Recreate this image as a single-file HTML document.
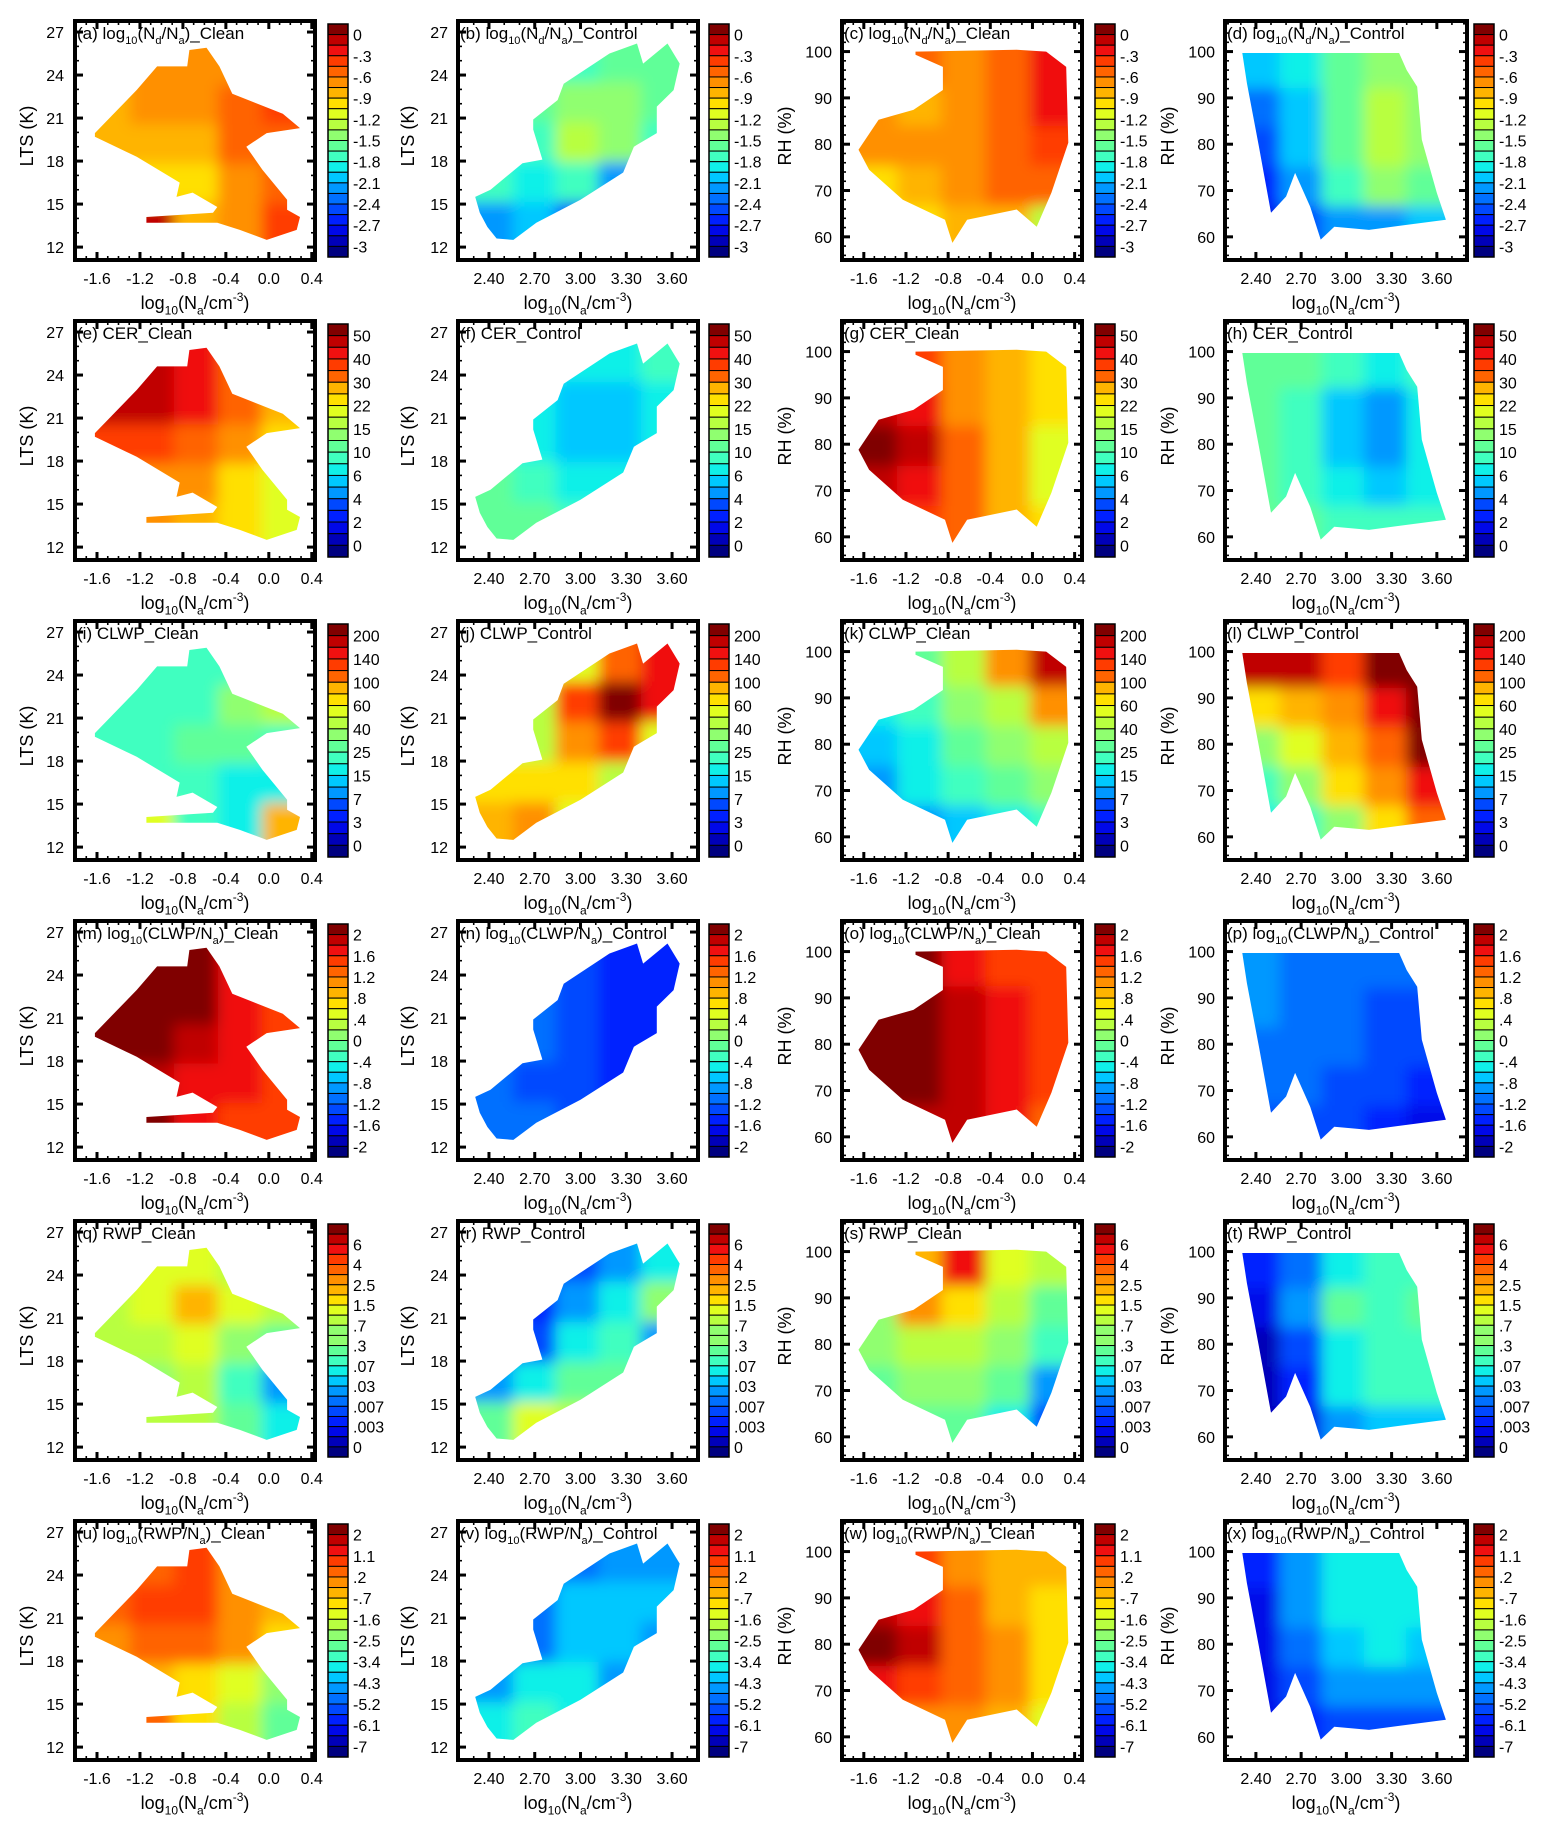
<!DOCTYPE html>
<html><head><meta charset="utf-8">
<style>
html,body{margin:0;padding:0;background:#fff;}
svg{display:block;font-family:"Liberation Sans","DejaVu Sans",sans-serif;}
</style></head>
<body>
<svg id="fig" width="1550" height="1831" viewBox="0 0 1550 1831" xmlns="http://www.w3.org/2000/svg">
<defs>
<filter id="blur" x="-20%" y="-20%" width="140%" height="140%"><feGaussianBlur stdDeviation="7"/></filter>
</defs>
</svg>
<script>
// ---------- data ----------
const rowQuantities=["log~{10}(N~{d}/N~{a})","CER","CLWP","log~{10}(CLWP/N~{a})","RWP","log~{10}(RWP/N~{a})"];
const colSuffix=["_Clean","_Control","_Clean","_Control"];
const cbLabels1=["0","-.3","-.6","-.9","-1.2","-1.5","-1.8","-2.1","-2.4","-2.7","-3"];
const cbLabels2=["50","40","30","22","15","10","6","4","2","0"];
const cbLabels3=["200","140","100","60","40","25","15","7","3","0"];
const cbLabels4=["2","1.6","1.2",".8",".4","0","-.4","-.8","-1.2","-1.6","-2"];
const cbLabels5=["6","4","2.5","1.5",".7",".3",".07",".03",".007",".003","0"];
const cbLabels6=["2","1.1",".2","-.7","-1.6","-2.5","-3.4","-4.3","-5.2","-6.1","-7"];
const cbBins=[22,20,20,22,23,22];
const cbLabelStart=[1,1,1,1,2,1];
const xTicksLog=[-1.6,-1.2,-0.8,-0.4,0.0,0.4];
const xTicksCtl=[2.4,2.7,3.0,3.3,3.6];
const yTicksLTS=[12,15,18,21,24,27];
const yTicksRH=[60,70,80,90,100];
const xDomains=[[-1.805,0.43],[2.197,3.77],[-1.807,0.47],[2.195,3.80]];
const yDomains=[[11.1,27.77],[11.1,27.77],[55,106.6],[55,106.6]];
// shape outlines (data coords)
const shapeA=[[-1.62,19.95],[-1.23,22.96],[-1.04,24.6],[-0.76,24.6],[-0.74,25.75],[-0.58,25.9],[-0.46,24.6],[-0.34,22.7],[0.13,21.3],[0.29,20.3],[-0.02,19.95],[-0.21,19],[-0.06,17.4],[0.17,15.3],[0.17,14.6],[0.29,14.1],[0.26,13.2],[-0.02,12.5],[-0.27,13.2],[-0.48,13.7],[-1.14,13.7],[-1.14,14.1],[-0.52,14.4],[-0.48,14.8],[-0.71,15.8],[-0.86,15.5],[-0.83,16.5],[-1.23,18.3],[-1.62,19.7]];
const shapeB=[[2.31,15.5],[2.41,16],[2.62,17.85],[2.75,18.1],[2.69,20.2],[2.69,20.9],[2.85,22.25],[2.89,23.4],[3.19,25.5],[3.37,26.2],[3.41,24.8],[3.57,26.2],[3.65,24.8],[3.61,22.95],[3.50,21.8],[3.50,19.95],[3.35,19],[3.28,17.2],[3.0,15.3],[2.71,13.7],[2.56,12.5],[2.45,12.6],[2.39,13.4],[2.34,14.4]];
const shapeC=[[-1.65,78.8],[-1.46,85.3],[-1.13,87.4],[-0.85,91.7],[-0.85,96.7],[-1.11,99.3],[-1.11,100],[-0.15,100.4],[0.13,100],[0.32,96.7],[0.34,80.3],[0.18,69.5],[0.04,62.2],[-0.15,65.9],[-0.62,63.7],[-0.76,58.7],[-0.83,63.7],[-1.23,68],[-1.55,74.5]];
const shapeD=[[2.31,99.7],[3.35,99.7],[3.40,96],[3.47,92.4],[3.50,81],[3.60,69.5],[3.66,63.7],[3.15,61.5],[2.92,62.2],[2.83,59.4],[2.76,66.5],[2.66,73.8],[2.60,68.7],[2.50,65.2],[2.42,79.5],[2.34,93.2]];
const gridBounds=[[-1.7,0.35,12.3,26],[2.28,3.68,12.3,26.3],[-1.7,0.4,58,101],[2.28,3.68,58,100.5]];
// colour level grids (0 = dark blue ... 21 = dark red), 5x5, rows top->bottom
const lv_a=[16,16,16,16,17, 15,16,16,17,18, 15,15,15,17,17, 15,14,14,16,17, 20,20,15,16,18];
const lv_b=[9,9,9,10,10, 8,10,11,11,10, 8,9,12,11,9, 9,8,9,6,5, 6,7,4,4,4];
const lv_c=[20,17,16,17,19, 16,15,16,17,19, 16,16,16,17,18, 14,15,16,17,17, 14,14,15,15,12];
const lv_d=[7,8,10,11,11, 5,7,10,12,11, 4,7,10,12,11, 3,6,9,11,10, 2,4,6,6,7];
const lv_e=[20,20,19,17,16, 20,20,19,17,15, 18,18,17,16,14, 17,16,16,14,13, 16,16,15,14,13];
const lv_f=[9,9,8,8,9, 9,8,7,7,8, 9,8,7,7,8, 10,9,8,8,8, 10,10,9,9,9];
const lv_g=[19,18,16,15,14, 20,19,16,15,14, 21,20,17,15,13, 20,19,17,15,13, 19,18,17,15,14];
const lv_h=[10,10,9,8,9, 10,9,7,6,8, 10,9,7,6,8, 10,9,8,7,8, 10,10,9,9,9];
const lv_i=[9,9,9,9,10, 9,9,9,11,12, 9,9,10,10,9, 9,9,9,8,8, 14,13,9,8,15];
const lv_j=[11,12,13,17,19, 11,12,18,21,19, 12,12,16,18,13, 14,14,14,12,12, 15,16,13,12,12];
const lv_k=[9,10,12,16,20, 8,9,11,12,16, 7,8,10,11,12, 6,8,9,10,11, 5,6,7,8,9];
const lv_l=[20,20,18,21,21, 14,15,16,19,21, 11,13,15,17,21, 9,11,14,16,19, 8,9,11,14,17];
const lv_m=[21,21,21,19,19, 21,21,21,19,18, 21,21,20,19,18, 20,20,19,19,18, 21,21,19,18,18];
const lv_n=[4,4,4,3,3, 5,5,4,3,3, 5,5,4,3,3, 5,4,4,3,3, 5,5,4,4,4];
const lv_o=[21,21,19,18,18, 21,21,20,19,18, 21,21,20,19,18, 21,21,20,19,18, 21,20,20,19,17];
const lv_p=[6,5,5,5,5, 6,5,5,4,4, 5,5,5,4,4, 5,5,4,4,3, 4,4,4,3,2];
const lv_q=[12,13,13,12,12, 12,13,15,13,12, 12,12,13,11,10, 11,11,12,9,6, 14,12,12,10,8];
const lv_r=[2,3,4,6,8, 2,3,6,8,11, 2,4,8,9,6, 6,8,10,10,4, 10,13,12,4,3];
const lv_s=[10,15,19,13,12, 11,16,14,12,10, 11,12,12,11,9, 10,11,11,10,6, 9,10,10,8,4];
const lv_t=[3,5,8,9,9, 2,6,10,9,10, 1,4,8,9,9, 1,3,8,9,9, 1,2,6,7,7];
const lv_u=[17,17,18,16,15, 17,18,18,16,15, 16,17,17,16,14, 16,15,14,13,11, 17,17,14,12,10];
const lv_v=[3,4,5,6,6, 3,5,7,7,7, 3,5,7,7,6, 6,8,8,6,5, 8,9,8,5,5];
const lv_w=[19,18,16,15,15, 20,19,17,15,14, 21,20,17,16,14, 19,18,17,16,14, 16,16,16,15,13];
const lv_x=[3,6,8,8,8, 2,6,8,8,8, 2,5,7,8,7, 2,4,6,6,6, 2,3,4,4,4];

// ---------- styling / layout ----------
const palette=["#000080","#0000b8","#0008e8","#0020ff","#0048ff","#0070ff","#0098ff","#00c8ff","#10f0e8","#40ffc0","#60ff98","#90ff70","#b8ff40","#e0ff20","#ffe000","#ffb400","#ff9000","#ff6400","#ff3c00","#f01010","#c00000","#800000"];
const panelX=[75,458,842,1225], panelW=[240,240,240,242], panelH=239;
const cbX=[328,709,1095,1474];
const yLabX=[27,408,785,1168], yTickX=[64,448,832,1215];
const svg=document.getElementById('fig');
const NS="http://www.w3.org/2000/svg";
function mk(tag,attrs,parent){const e=document.createElementNS(NS,tag);for(const k in attrs)e.setAttribute(k,attrs[k]);(parent||svg).appendChild(e);return e;}
function richText(el,str,fs){
  const re=/([~^])\{([^}]*)\}/g;let last=0,m;
  const add=(t,shift)=>{const ts=document.createElementNS(NS,'tspan');ts.textContent=t;
    if(shift){ts.setAttribute('font-size',Math.round(fs*0.65));ts.setAttribute('dy',shift);}
    el.appendChild(ts);};
  let pend=0;
  while((m=re.exec(str))){
    if(m.index>last){const ts=document.createElementNS(NS,'tspan');ts.textContent=str.slice(last,m.index);if(pend)ts.setAttribute('dy',pend);pend=0;el.appendChild(ts);}
    const sh=m[1]==='~'?fs*0.3:-fs*0.45;
    add(m[2],sh+pend);pend=-sh;last=re.lastIndex;
  }
  if(last<str.length){const ts=document.createElementNS(NS,'tspan');ts.textContent=str.slice(last);if(pend)ts.setAttribute('dy',pend);el.appendChild(ts);}
}
const levelsAll=[lv_a,lv_b,lv_c,lv_d,lv_e,lv_f,lv_g,lv_h,lv_i,lv_j,lv_k,lv_l,lv_m,lv_n,lv_o,lv_p,lv_q,lv_r,lv_s,lv_t,lv_u,lv_v,lv_w,lv_x];
const shapes=[shapeA,shapeB,shapeC,shapeD];
const cbLabelSets=[cbLabels1,cbLabels2,cbLabels3,cbLabels4,cbLabels5,cbLabels6];
const letters="abcdefghijklmnopqrstuvwx";

for(let r=0;r<6;r++){
 for(let c=0;c<4;c++){
  const idx=r*4+c, top=21+300*r, left=panelX[c], W=panelW[c], H=panelH;
  const xd=xDomains[c], yd=yDomains[c];
  const sx=v=>left+(v-xd[0])/(xd[1]-xd[0])*W;
  const sy=v=>top+H-(v-yd[0])/(yd[1]-yd[0])*H;
  const g=mk('g',{});
  
  
  const cp=mk('clipPath',{id:'clip'+idx},svg.querySelector('defs'));
  mk('polygon',{points:shapes[c].map(p=>sx(p[0]).toFixed(1)+','+sy(p[1]).toFixed(1)).join(' ')},cp);
  const hm=mk('g',{'clip-path':'url(#clip'+idx+')'},g);
  
  
  const inner=mk('g',{filter:'url(#blur)'},hm);
  const gb=gridBounds[c], lv=levelsAll[idx], n=5;
  const cw=(gb[1]-gb[0])/n, ch=(gb[3]-gb[2])/n;
  for(let j=-2;j<n+2;j++)for(let i=-2;i<n+2;i++){
    const ii=Math.max(0,Math.min(n-1,i)), jj=Math.max(0,Math.min(n-1,j));
    const L=lv[jj*n+ii];
    const x0=sx(gb[0]+i*cw), x1=sx(gb[0]+(i+1)*cw), y0=sy(gb[3]-j*ch), y1=sy(gb[3]-(j+1)*ch);
    const cell=mk('rect',{x:x0-0.5,y:y0-0.5,width:x1-x0+1,height:y1-y0+1,fill:palette[L]},inner);
    
    
  }
  const xt=(c%2===0)?xTicksLog:xTicksCtl, yt=(c<2)?yTicksLTS:yTicksRH;
  const minX=(c%2===0)?[-1.8,0.4]:[2.2,3.7];
  for(let v=minX[0];v<=minX[1]+1e-6;v+=0.1){
    const X=sx(v);
    mk('line',{x1:X,x2:X,y1:top+H,y2:top+H-4,stroke:'#000','stroke-width':1.6},g);
    mk('line',{x1:X,x2:X,y1:top,y2:top+4,stroke:'#000','stroke-width':1.6},g);
  }
  const minY=(c<2)?[11,27,1]:[56,106,2];
  for(let v=minY[0];v<=minY[1];v+=minY[2]){
    const Y=sy(v); if(Y<top||Y>top+H)continue;
    mk('line',{x1:left,x2:left+4,y1:Y,y2:Y,stroke:'#000','stroke-width':1.6},g);
    mk('line',{x1:left+W,x2:left+W-4,y1:Y,y2:Y,stroke:'#000','stroke-width':1.6},g);
  }
  xt.forEach(v=>{const X=sx(v);
    mk('line',{x1:X,x2:X,y1:top+H,y2:top+H-8,stroke:'#000','stroke-width':3},g);
    mk('line',{x1:X,x2:X,y1:top,y2:top+8,stroke:'#000','stroke-width':3},g);
    const t=mk('text',{x:X,y:top+H+24,'font-size':16,'text-anchor':'middle'},g);
    t.textContent=(c%2===0)?v.toFixed(1):v.toFixed(2);
    
    
  });
  yt.forEach(v=>{const Y=sy(v);
    mk('line',{x1:left,x2:left+8,y1:Y,y2:Y,stroke:'#000','stroke-width':3},g);
    mk('line',{x1:left+W,x2:left+W-8,y1:Y,y2:Y,stroke:'#000','stroke-width':3},g);
    const t=mk('text',{x:yTickX[c],y:Y+6,'font-size':16,'text-anchor':'end'},g);
    t.textContent=String(v);
    
    
  });
  const fr=mk('rect',{x:left,y:top,width:W,height:H,fill:'none',stroke:'#000','stroke-width':4},g);
  
  
  const tt=mk('text',{x:left+2,y:top+18,'font-size':17},g);
  richText(tt,'('+letters[idx]+') '+rowQuantities[r]+colSuffix[c],17);
  
  
  const xl=mk('text',{x:left+W/2,y:top+H+49,'font-size':18,'text-anchor':'middle'},g);
  richText(xl,'log~{10}(N~{a}/cm^{-3})',18);
  
  
  const yl=mk('text',{x:0,y:0,'font-size':18,'text-anchor':'middle',transform:'translate('+(yLabX[c]+6)+','+(top+115)+') rotate(-90)'},g);
  yl.textContent=(c<2)?'LTS (K)':'RH (%)';
  
  
  const cb=mk('g',{},g);
  
  
  const nb=cbBins[r], cbTop=top+3, cbH=233, bh=cbH/nb;
  for(let k=0;k<nb;k++){
    let pi=Math.round((nb-1-k)*(palette.length-1)/(nb-1));
    const b=mk('rect',{x:cbX[c],y:cbTop+k*bh,width:20,height:bh,fill:palette[pi],stroke:'#000','stroke-width':1},cb);
    
    
  }
  mk('rect',{x:cbX[c],y:cbTop,width:20,height:cbH,fill:'none',stroke:'#000','stroke-width':1.5},cb);
  cbLabelSets[r].forEach((s,q)=>{
    const k=cbLabelStart[r]+2*q;
    const t=mk('text',{x:cbX[c]+25,y:cbTop+k*bh+6,'font-size':16},cb);
    t.textContent=s;
    
    
  });
 }
}
</script>
</body></html>
